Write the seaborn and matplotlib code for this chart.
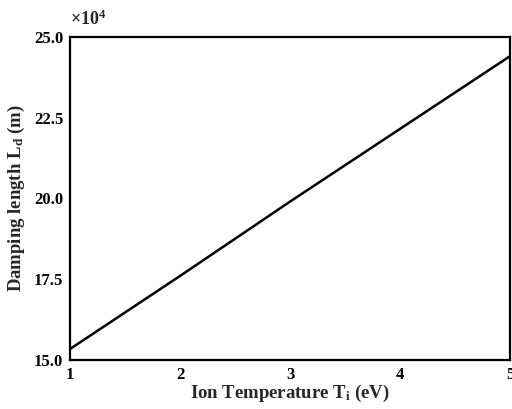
import matplotlib
matplotlib.use("Agg")
import matplotlib.pyplot as plt
import seaborn as sns
import pandas as pd

ion_temp = [1, 2, 3, 4, 5]
damping_len_1e4 = [15.34, 17.6, 19.9, 22.15, 24.4]

sns.set_theme(style="white")
plt.rcParams['font.family'] = ['Liberation Serif', 'DejaVu Serif']
plt.rcParams['font.weight'] = 'bold'
plt.rcParams['mathtext.fontset'] = 'custom'
plt.rcParams['mathtext.rm'] = 'Liberation Serif:bold'
plt.rcParams['mathtext.bf'] = 'Liberation Serif:bold'
plt.rcParams['mathtext.it'] = 'Liberation Serif:bold'

df = pd.DataFrame({"T": ion_temp, "L": damping_len_1e4})

fig = plt.figure(figsize=(5.12, 4.09), dpi=100)
ax = fig.add_axes([0.137, 0.12, 0.859, 0.79])
sns.lineplot(data=df, x="T", y="L", ax=ax, color="black", linewidth=1.8)

ax.set_xlim(1, 5)
ax.set_ylim(15, 25)
ax.set_xticks([1, 2, 3, 4, 5])
ax.set_yticks([15.0, 17.5, 20.0, 22.5, 25.0])
ax.set_yticklabels(["15.0", "17.5", "20.0", "22.5", "25.0"])
ax.tick_params(direction="in", length=4, width=1.5, labelsize=12, colors="black", pad=5)
for lab in ax.get_xticklabels() + ax.get_yticklabels():
    lab.set_fontweight("bold")
for s in ax.spines.values():
    s.set_linewidth(1.6)
    s.set_color("black")

ax.set_xlabel(r"Ion Temperature T$_\mathrm{i}$ (eV)", fontsize=13.5, fontweight="bold", labelpad=0)
ax.set_ylabel(r"Damping length L$_\mathrm{d}$ (m)", fontsize=13.5, fontweight="bold", labelpad=5)
ax.text(0.0, 1.025, r"$\times$10$^4$", transform=ax.transAxes, fontsize=13, fontweight="bold", ha="left", va="bottom")

fig.savefig("out.png", dpi=100)
